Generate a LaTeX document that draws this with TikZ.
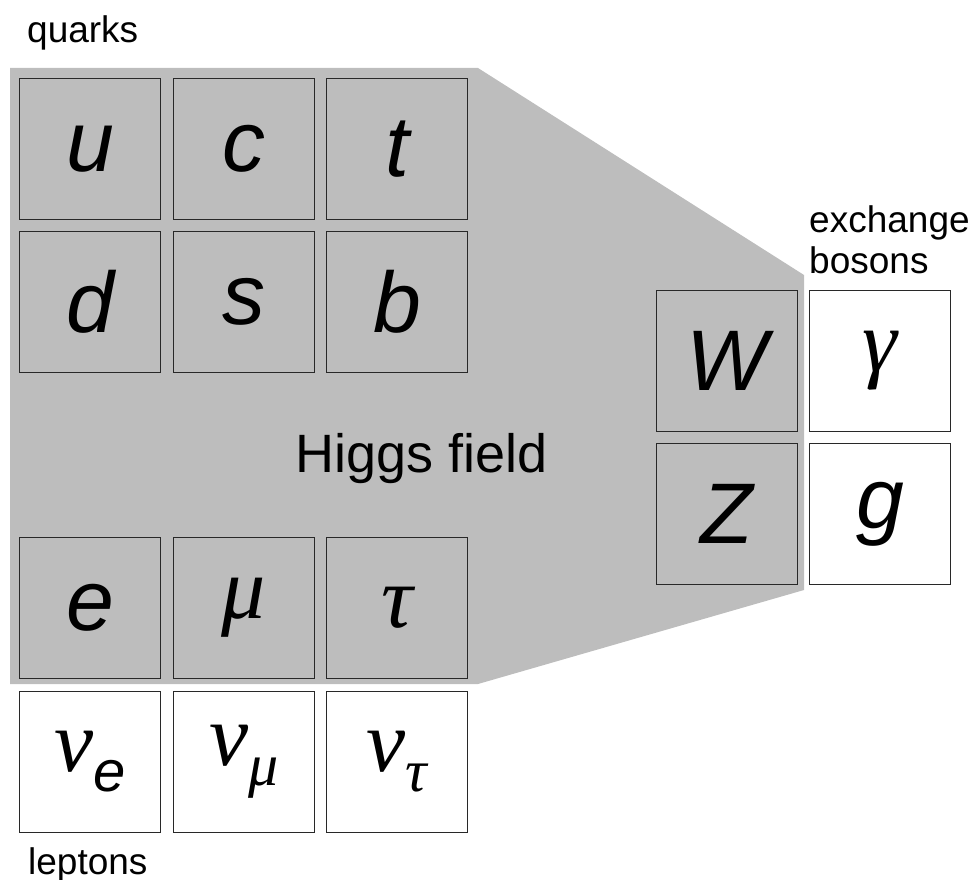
\documentclass[tikz,border=0pt]{standalone}
\usepackage{fontspec}
\setmainfont{Liberation Sans}
\newfontfamily\greekfont{Liberation Serif}
\usetikzlibrary{positioning}

\definecolor{higgsgray}{RGB}{189,189,189}
\definecolor{edgegray}{RGB}{40,40,40}

\tikzset{
  cell/.style={draw=edgegray, line width=1.8pt, minimum width=141pt, minimum height=141pt,
    inner sep=0pt, font=\fontsize{86}{86}\selectfont\itshape},
  massive/.style={cell, fill=higgsgray},
  massless/.style={cell, fill=white},
  greek/.style={font=\fontsize{88}{88}\greekfont\itshape},
  tag/.style={anchor=base west, inner sep=0pt, font=\fontsize{37}{37}\selectfont},
}
\newcommand{\nusub}[1]{{\greekfont\itshape ν}\raisebox{-20pt}{#1}}

\begin{document}
\begin{tikzpicture}[x=1pt, y=-1pt]
    \useasboundingbox (0,0) rectangle (979,880);

    % Higgs field region
    \fill[higgsgray] (10,68) -- (478,68) -- (804,275) -- (804,590) -- (478,684) -- (10,684) -- cycle;
    \node[anchor=base, inner sep=0pt, font=\fontsize{54}{54}\selectfont] (higgs) at (422,472) {Higgs field};

    % Quarks
    \foreach \name/\x/\y in {u/90/149, c/244/149, t/397/149, d/90/302, s/244/302, b/397/302}
        \node[massive] (\name) at (\x,\y) {\name};
    \node[tag] (quarks) at (27,43) {quarks};

    % Leptons
    \node[massive, greek] (e) at (90,608) {\fontsize{86}{86}\rmfamily\itshape e};
    \node[massive, greek] (mu) at (244,608) {μ};
    \node[massive, greek] (tau) at (397,608) {τ};
    \node[massless, greek] (nue) at (90,762) {\nusub{\fontsize{58}{58}\rmfamily\itshape e}};
    \node[massless, greek] (numu) at (244,762) {\nusub{\fontsize{60}{60}\selectfont μ}};
    \node[massless, greek] (nutau) at (397,762) {\nusub{\fontsize{60}{60}\selectfont τ}};
    \node[tag] (leptons) at (28,874) {leptons};

    % Exchange bosons
    \node[massive] (W) at (727,361) {W};
    \node[massive] (Z) at (727,514) {Z};
    \node[massless, greek] (gamma) at (880,361) {γ};
    \node[massless] (g) at (880,514) {g};
    \node[tag] (exchange) at (809,232) {exchange};
    \node[tag] (bosons) at (809,273) {bosons};
\end{tikzpicture}
\end{document}
